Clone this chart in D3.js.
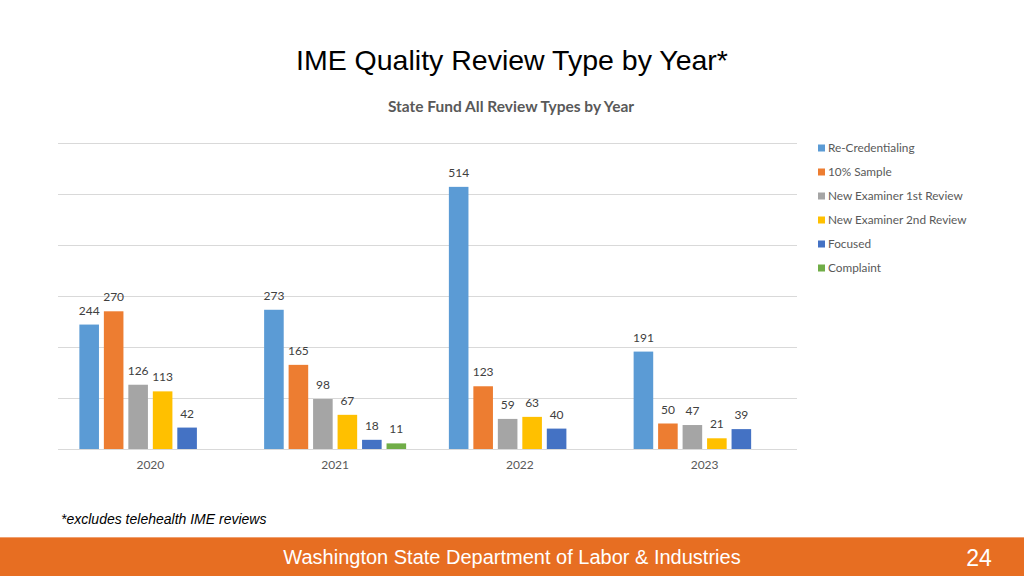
<!DOCTYPE html>
<html>
<head>
<meta charset="utf-8">
<script src="https://cdn.jsdelivr.net/npm/d3@7"></script>
<style>
  html, body { margin: 0; padding: 0; background: #fff; }
  svg { display: block; }
</style>
</head>
<body>
<svg id="chart" width="1024" height="576"></svg>
<script>
const years = ["2020", "2021", "2022", "2023"];
const seriesNames = ["Re-Credentialing", "10% Sample", "New Examiner 1st Review", "New Examiner 2nd Review", "Focused", "Complaint"];
const seriesColors = ["#5B9BD5", "#ED7D31", "#A5A5A5", "#FFC000", "#4472C4", "#70AD47"];
const reCredentialing = [244, 273, 514, 191];
const sample10 = [270, 165, 123, 50];
const newExaminer1st = [126, 98, 59, 47];
const newExaminer2nd = [113, 67, 63, 21];
const focused = [42, 18, 40, 39];
const complaint = [null, 11, null, null];
const yTicks = [0, 100, 200, 300, 400, 500, 600];

const seriesValues = [reCredentialing, sample10, newExaminer1st, newExaminer2nd, focused, complaint];

(function () {
const svg = d3.select("#chart");
const chartFont = "Lato, Carlito, 'Open Sans', sans-serif";

// Titles
svg.append("text").attr("x", 512).attr("y", 70).attr("text-anchor", "middle")
  .style("font-family", "'Liberation Sans', Arial, sans-serif").style("font-size", "28.5px").style("fill", "#000")
  .text("IME Quality Review Type by Year*");
svg.append("text").attr("x", 511).attr("y", 112).attr("text-anchor", "middle")
  .style("font-family", chartFont).style("font-size", "15.5px").style("font-weight", "bold").style("fill", "#595959")
  .text("State Fund All Review Types by Year");

// Scales
const plotLeft = 58, plotRight = 797, plotTop = 143, plotBottom = 449;
const x0 = d3.scaleBand().domain(years).range([plotLeft, plotRight]).padding(0);
const groupPad = (x0.bandwidth() - 142) / 2;
const x1 = d3.scaleBand().domain(seriesNames).range([groupPad, x0.bandwidth() - groupPad]).paddingInner(0.2).paddingOuter(0);
const y = d3.scaleLinear().domain([0, 600]).range([plotBottom, plotTop]);

// Gridlines
svg.append("g").selectAll("line").data(yTicks).join("line")
  .attr("x1", plotLeft).attr("x2", plotRight)
  .attr("y1", d => Math.round(y(d)) + 0.5).attr("y2", d => Math.round(y(d)) + 0.5)
  .attr("stroke", "#D9D9D9").attr("stroke-width", 1);

// X axis labels
const xAxis = d3.axisBottom(x0).tickSize(0).tickPadding(11);
const gx = svg.append("g").attr("transform", `translate(0,${plotBottom})`).call(xAxis);
gx.select(".domain").remove();
gx.selectAll("text").style("font-family", chartFont).style("font-size", "12px").style("fill", "#595959");

// Bars
const barData = [];
years.forEach((yr, i) => {
  seriesNames.forEach((s, j) => {
    const v = seriesValues[j][i];
    if (v !== null && v !== undefined) barData.push({ year: yr, series: s, value: v, color: seriesColors[j] });
  });
});

svg.append("g").selectAll("rect").data(barData).join("rect")
  .attr("x", d => x0(d.year) + x1(d.series))
  .attr("width", x1.bandwidth())
  .attr("y", d => y(d.value))
  .attr("height", d => y(0) - y(d.value))
  .attr("fill", d => d.color);

svg.append("g").selectAll("text").data(barData).join("text")
  .attr("x", d => x0(d.year) + x1(d.series) + x1.bandwidth() / 2)
  .attr("y", d => y(d.value) - 10)
  .attr("text-anchor", "middle")
  .style("font-family", chartFont).style("font-size", "12px").style("fill", "#404040")
  .text(d => d.value);

// Legend
const legend = svg.append("g").attr("transform", "translate(818,148)");
const li = legend.selectAll("g").data(seriesNames).join("g")
  .attr("transform", (d, i) => `translate(0,${i * 24})`);
li.append("rect").attr("x", 0).attr("y", -3.5).attr("width", 7).attr("height", 7)
  .attr("fill", (d, i) => seriesColors[i]);
li.append("text").attr("x", 10).attr("y", 4)
  .style("font-family", chartFont).style("font-size", "11.8px").style("fill", "#595959")
  .text(d => d);

// Footnote
svg.append("text").attr("x", 61).attr("y", 524)
  .style("font-family", "'Liberation Sans Narrow', 'Liberation Sans', Arial, sans-serif")
  .style("font-size", "14px").style("font-style", "italic").style("fill", "#000")
  .text("*excludes telehealth IME reviews");

// Footer
svg.append("rect").attr("x", 0).attr("y", 537).attr("width", 1024).attr("height", 39).attr("fill", "#E76E22");
svg.append("line").attr("x1", 0).attr("x2", 1024).attr("y1", 537.5).attr("y2", 537.5).attr("stroke", "#F0A070").attr("stroke-width", 1);
svg.append("text").attr("x", 512).attr("y", 564).attr("text-anchor", "middle")
  .style("font-family", "'Liberation Sans Narrow', 'Liberation Sans', Arial, sans-serif")
  .style("font-size", "20px").style("fill", "#fff")
  .text("Washington State Department of Labor & Industries");
svg.append("text").attr("x", 979).attr("y", 566).attr("text-anchor", "middle")
  .style("font-family", "'Liberation Sans Narrow', 'Liberation Sans', Arial, sans-serif")
  .style("font-size", "23px").style("fill", "#fff")
  .text("24");
})();
</script>
</body>
</html>
